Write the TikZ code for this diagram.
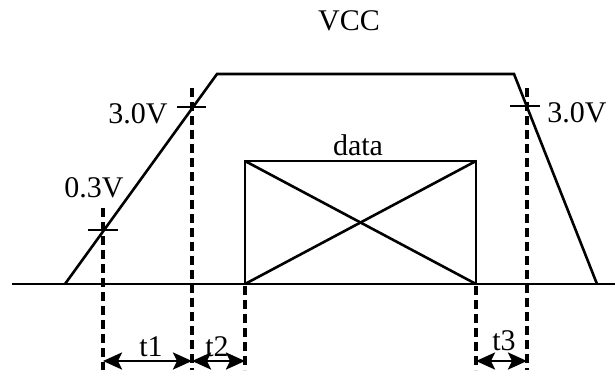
\documentclass[tikz,border=0pt]{standalone}
\usepackage{fontspec}
\setmainfont{Liberation Serif}
\usetikzlibrary{arrows.meta,positioning}

\begin{document}
\begin{tikzpicture}[
  x=1pt, y=-1pt,
  signal/.style={line width=2.6pt, line join=miter},
  guide/.style={line width=3.4pt, dash pattern=on 9pt off 5pt},
  mark line/.style={line width=2.6pt},
  span/.style={{Stealth[length=19pt,width=17pt,inset=4pt]}-{Stealth[length=19pt,width=17pt,inset=4pt]}, line width=2.6pt},
  lbl/.style={font=\fontsize{30}{33}\selectfont, inner sep=0pt, anchor=base}
]
  \useasboundingbox (0,0) rectangle (615,370);

  % Supply ramp points
  \coordinate (gnd0) at (12,284);
  \coordinate (gnd1) at (615,284);
  \coordinate (rise0) at (65,284);
  \coordinate (rise1) at (217,74);
  \coordinate (fall0) at (514,74);
  \coordinate (fall1) at (597,284);

  % Data window
  \coordinate (dataBL) at (245,284);
  \coordinate (dataTR) at (476,161);

  % Guide line ends
  \coordinate (g1top) at (103,208);  \coordinate (g1bot) at (103,370);
  \coordinate (g2top) at (192,88);   \coordinate (g2bot) at (192,370);
  \coordinate (g3top) at (245,286);  \coordinate (g3bot) at (245,370);
  \coordinate (g4top) at (476,286);  \coordinate (g4bot) at (476,370);
  \coordinate (g5top) at (527,88);   \coordinate (g5bot) at (527,370);

  % Arrow ends
  \coordinate (a1) at (103,361);
  \coordinate (a2) at (192,361);
  \coordinate (a3) at (245,361);
  \coordinate (a4) at (476,361);
  \coordinate (a5) at (527,361);

  % VCC waveform
  \draw[signal] (gnd0) -- (gnd1);
  \draw[signal] (rise0) -- (rise1) -- (fall0) -- (fall1);

  % data box with cross
  \draw[signal] (dataBL) rectangle (dataTR);
  \draw[signal] (dataBL) -- (dataTR);
  \draw[signal] (dataBL |- dataTR) -- (dataTR |- dataBL);

  % Threshold ticks
  \draw[mark line] (88,230) -- (118,230);
  \draw[mark line] (177,107) -- (206,107);
  \draw[mark line] (510,106) -- (540,106);

  % Dashed guides
  \draw[guide] (g1top) -- (g1bot);
  \draw[guide] (g2top) -- (g2bot);
  \draw[guide] (g3top) -- (g3bot);
  \draw[guide] (g4top) -- (g4bot);
  \draw[guide] (g5top) -- (g5bot);

  % Timing spans
  \draw[span] (a1) -- (a2);
  \draw[span] (a2) -- (a3);
  \draw[span] (a4) -- (a5);

  % Labels
  \node[lbl] (vcc) at (349,30) {VCC};
  \node[lbl] (data) at (358,155) {data};
  \node[lbl] (v30l) at (138,123) {3.0V};
  \node[lbl] (v03) at (94,197) {0.3V};
  \node[lbl] (v30r) at (577,122) {3.0V};
  \node[lbl] (t1) at (151,356) {t1};
  \node[lbl] (t2) at (217,356) {t2};
  \node[lbl] (t3) at (504,350) {t3};

\end{tikzpicture}
\end{document}
